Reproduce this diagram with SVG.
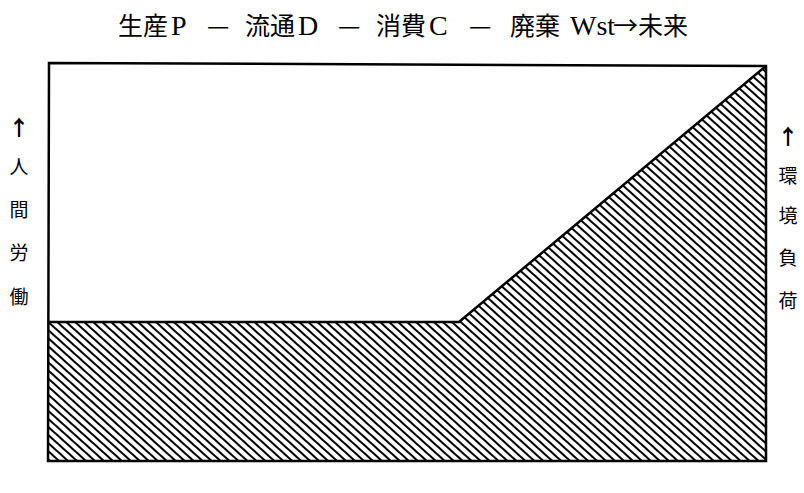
<svg xmlns="http://www.w3.org/2000/svg" width="804" height="493" viewBox="0 0 804 493">
<style>
.cjk{font-family:"Noto Sans CJK JP","Noto Sans",sans-serif;font-size:25px;fill:#000}
.lat{font-family:"Liberation Serif",serif;font-size:28px;fill:#000}
.side{font-family:"Noto Sans CJK JP","Noto Sans",sans-serif;font-size:19px;fill:#000;text-anchor:middle}
.arr{font-family:"Noto Sans CJK JP","Noto Sans",sans-serif;font-size:21px;font-weight:bold;fill:#000;text-anchor:middle}
.edge{fill:none;stroke:#000;stroke-width:2.5;stroke-linejoin:miter}
</style>
<defs>
<pattern id="hatch" patternUnits="userSpaceOnUse" width="12" height="6" patternTransform="rotate(42)">
<line x1="0" y1="3" x2="12" y2="3" stroke="#000" stroke-width="2"/>
</pattern>
</defs>
<g id="title">
<text class="cjk" x="118" y="35">生産</text><text class="lat" x="171" y="35">P</text>
<text class="cjk" x="207" y="35">—</text>
<text class="cjk" x="245" y="35">流通</text><text class="lat" x="298" y="35">D</text>
<text class="cjk" x="338" y="35">—</text>
<text class="cjk" x="376" y="35">消費</text><text class="lat" x="429" y="35">C</text>
<text class="cjk" x="469" y="35">—</text>
<text class="cjk" x="510" y="35">廃棄</text><text class="lat" x="570" y="35">Wst</text>
<text class="cjk" x="613" y="35">→未来</text>
</g>
<g id="chart">
<polygon id="hatched" points="48,322 459,322 766,66 766,461 48,461" fill="url(#hatch)"/>
<polygon id="frame" class="edge" points="49,63 766,66 766,461 48,461"/>
<polyline id="boundary" class="edge" points="48,322 459,322 766,66"/>
</g>
<g id="left-label">
<text class="arr" x="19" y="135">↑</text>
<text class="side" x="19" y="174">人</text>
<text class="side" x="19" y="217">間</text>
<text class="side" x="19" y="260">労</text>
<text class="side" x="19" y="304">働</text>
</g>
<g id="right-label">
<text class="arr" x="788" y="144">↑</text>
<text class="side" x="788" y="183">環</text>
<text class="side" x="788" y="223">境</text>
<text class="side" x="788" y="265">負</text>
<text class="side" x="788" y="308">荷</text>
</g>
</svg>
